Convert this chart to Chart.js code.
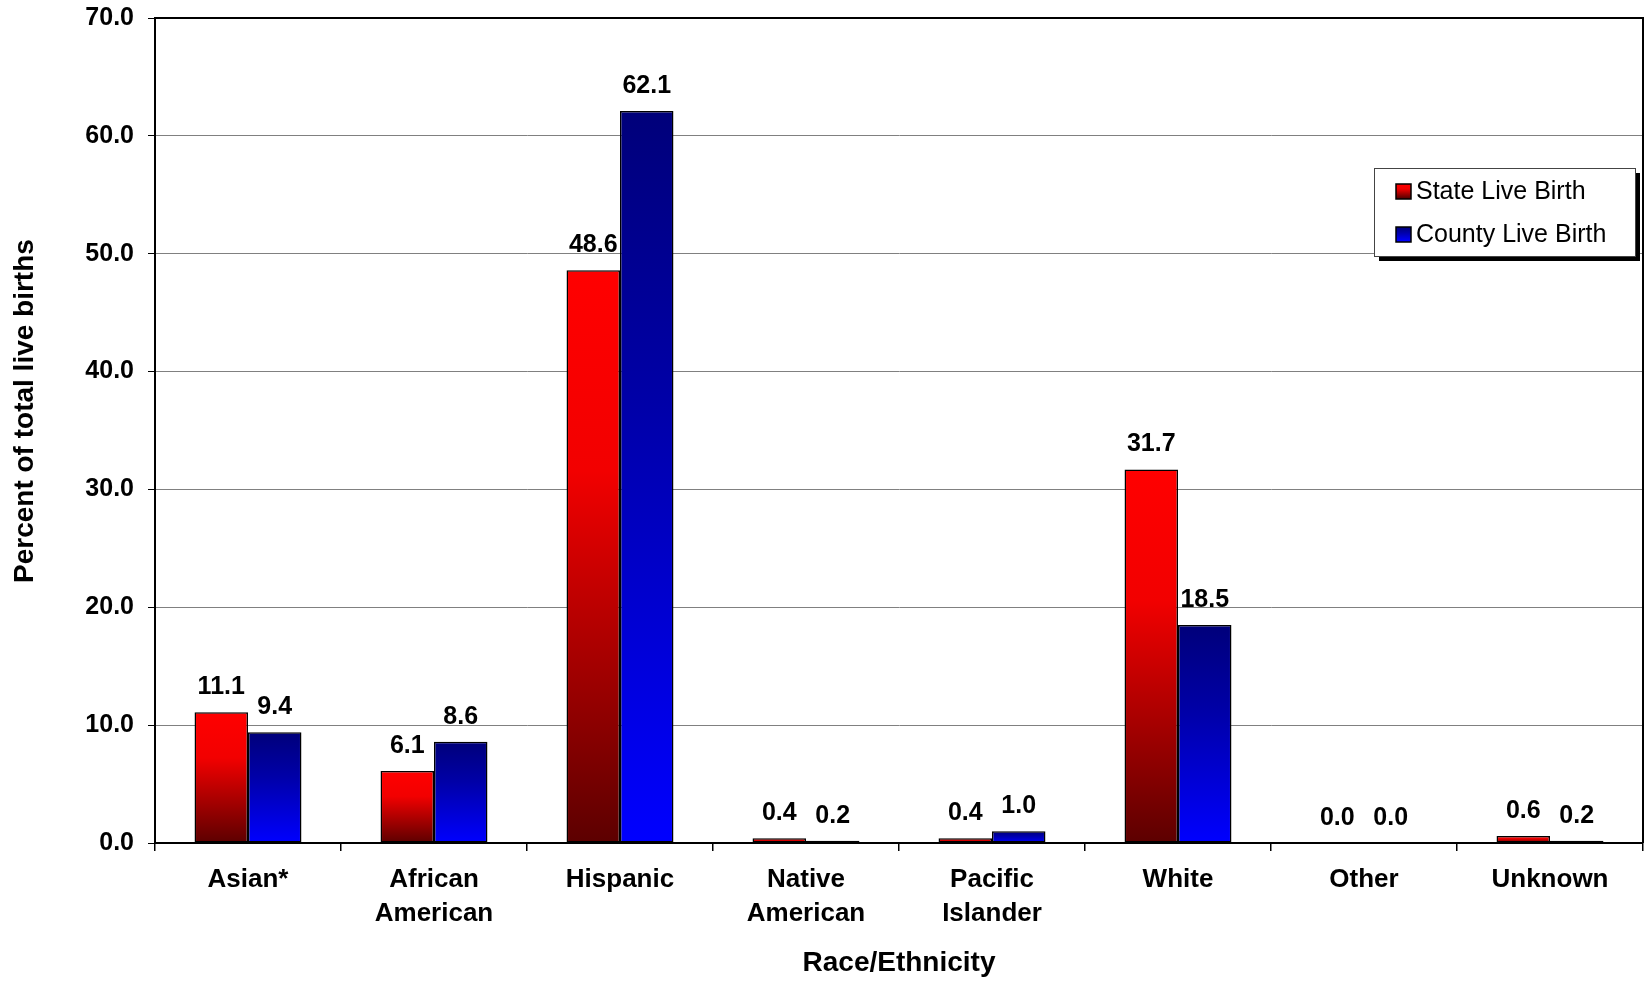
<!DOCTYPE html>
<html>
<head>
<meta charset="utf-8">
<script src="https://cdn.jsdelivr.net/npm/chart.js@4/dist/chart.umd.min.js"></script>
<style>
  html, body { margin: 0; padding: 0; background: #fff; }
  #wrap { width: 1648px; height: 982px; }
</style>
</head>
<body>
<div id="wrap"><canvas id="birthChart" width="1648" height="982"></canvas></div>
<script>
// Race/Ethnicity of live births, state vs county (percent)
const categories = ['Asian*', ['African', 'American'], 'Hispanic', ['Native', 'American'],
                    ['Pacific', 'Islander'], 'White', 'Other', 'Unknown'];
const stateLiveBirth = [11.1, 6.1, 48.6, 0.4, 0.4, 31.7, 0.0, 0.6];
const countyLiveBirth = [9.4, 8.6, 62.1, 0.2, 1.0, 18.5, 0.0, 0.2];
const yTicks = [0, 10, 20, 30, 40, 50, 60, 70];

const FONT = '"Liberation Sans", Arial, sans-serif';

// gradient for each bar, from its top to its base
function barGradient(stops) {
  return function (c) {
    const chart = c.chart;
    if (!chart.chartArea || c.raw === undefined) return stops[0][1];
    const y = chart.scales.y;
    const top = y.getPixelForValue(c.raw);
    let base = y.getPixelForValue(0);
    if (base - top < 1) base = top + 1;
    const g = chart.ctx.createLinearGradient(0, top, 0, base);
    stops.forEach(s => g.addColorStop(s[0], s[1]));
    return g;
  };
}
const redStops = [[0, '#ff0000'], [0.35, '#f20000'], [1, '#5c0000']];
const blueStops = [[0, '#00007a'], [0.4, '#0000a8'], [1, '#0000ff']];

// value labels above bars
const valueLabels = {
  id: 'valueLabels',
  afterDatasetsDraw(chart) {
    const ctx = chart.ctx;
    ctx.save();
    ctx.font = 'bold 25px ' + FONT;
    ctx.fillStyle = '#000';
    ctx.textAlign = 'center';
    ctx.textBaseline = 'alphabetic';
    chart.data.datasets.forEach((ds, i) => {
      chart.getDatasetMeta(i).data.forEach((bar, j) => {
        ctx.fillText(ds.data[j].toFixed(1), bar.x, bar.y - 18);
      });
    });
    ctx.restore();
  }
};

// frame round the plot area and the boxed legend with shadow
const frameAndLegend = {
  id: 'frameAndLegend',
  beforeDatasetsDraw(chart) {
    const a = chart.chartArea;
    const ctx = chart.ctx;
    ctx.save();
    ctx.strokeStyle = '#000';
    ctx.lineWidth = 2;
    ctx.beginPath();
    ctx.moveTo(a.left, a.top);
    ctx.lineTo(a.right, a.top);
    ctx.lineTo(a.right, a.bottom);
    ctx.stroke();
    ctx.restore();
  },
  afterDraw(chart) {
    const ctx = chart.ctx;
    const x = 1374, y = 168, w = 261, h = 88;
    ctx.save();
    ctx.fillStyle = '#000';
    ctx.fillRect(x + 5, y + 5, w, h);
    ctx.fillStyle = '#fff';
    ctx.fillRect(x, y, w, h);
    ctx.strokeStyle = '#444';
    ctx.lineWidth = 1;
    ctx.strokeRect(x + 0.5, y + 0.5, w, h);
    ctx.font = '25px ' + FONT;
    ctx.textBaseline = 'middle';
    const rows = [[191, redStops, chart.data.datasets[0].label],
                  [234, blueStops, chart.data.datasets[1].label]];
    rows.forEach(r => {
      const my = r[0];
      const g = ctx.createLinearGradient(0, my - 7, 0, my + 7);
      r[1].forEach(s => g.addColorStop(s[0], s[1]));
      ctx.fillStyle = g;
      ctx.fillRect(1396, my - 7, 15, 15);
      ctx.strokeStyle = '#000';
      ctx.lineWidth = 1.5;
      ctx.strokeRect(1396, my - 7, 15, 15);
      ctx.fillStyle = '#000';
      ctx.fillText(r[2], 1416, my + 1);
    });
    ctx.restore();
  }
};

const ctx = document.getElementById('birthChart').getContext('2d');
const birthChart = new Chart(ctx, {
  type: 'bar',
  data: {
    labels: categories,
    datasets: [{
      label: 'State Live Birth',
      data: stateLiveBirth,
      backgroundColor: barGradient(redStops),
      borderColor: '#000',
      borderWidth: 1.5,
      borderSkipped: false
    }, {
      label: 'County Live Birth',
      data: countyLiveBirth,
      backgroundColor: barGradient(blueStops),
      borderColor: '#000',
      borderWidth: 1.5,
      borderSkipped: false
    }]
  },
  options: {
    responsive: false,
    animation: false,
    layout: { padding: { top: 18, right: 5, left: 0, bottom: 0 } },
    datasets: { bar: { barPercentage: 1.0, categoryPercentage: 0.575 } },
    plugins: {
      legend: { display: false },
      tooltip: { enabled: false }
    },
    scales: {
      x: {
        grid: { offset: true, drawOnChartArea: false, tickLength: 8, tickColor: '#000', lineWidth: 1.5 },
        border: { color: '#000', width: 2 },
        ticks: {
          color: '#000', padding: 12, maxRotation: 0, autoSkip: false,
          font: { family: FONT, size: 26, weight: 'bold', lineHeight: 1.3 }
        },
        title: {
          display: true, text: 'Race/Ethnicity', color: '#000',
          font: { family: FONT, size: 28, weight: 'bold' },
          padding: { top: 0, bottom: 2 }
        },
        afterFit(scale) { scale.height = 139; }
      },
      y: {
        min: yTicks[0],
        max: yTicks[yTicks.length - 1],
        afterBuildTicks(scale) { scale.ticks = yTicks.map(v => ({ value: v })); },
        grid: {
          color: c => c.tick.value === 0 ? '#000' : '#808080',
          tickColor: '#000', tickLength: 7, lineWidth: 1
        },
        border: { color: '#000', width: 2 },
        ticks: {
          color: '#000', padding: 14,
          font: { family: FONT, size: 25, weight: 'bold', lineHeight: 0.2 },
          callback: v => Number(v).toFixed(1)
        },
        title: {
          display: true, text: '     Percent of total live births', color: '#000',
          font: { family: FONT, size: 28, weight: 'bold' },
          padding: { top: 8, bottom: 0 }
        },
        afterFit(scale) { scale.width = 155; }
      }
    }
  },
  plugins: [valueLabels, frameAndLegend]
});
</script>
</body>
</html>
